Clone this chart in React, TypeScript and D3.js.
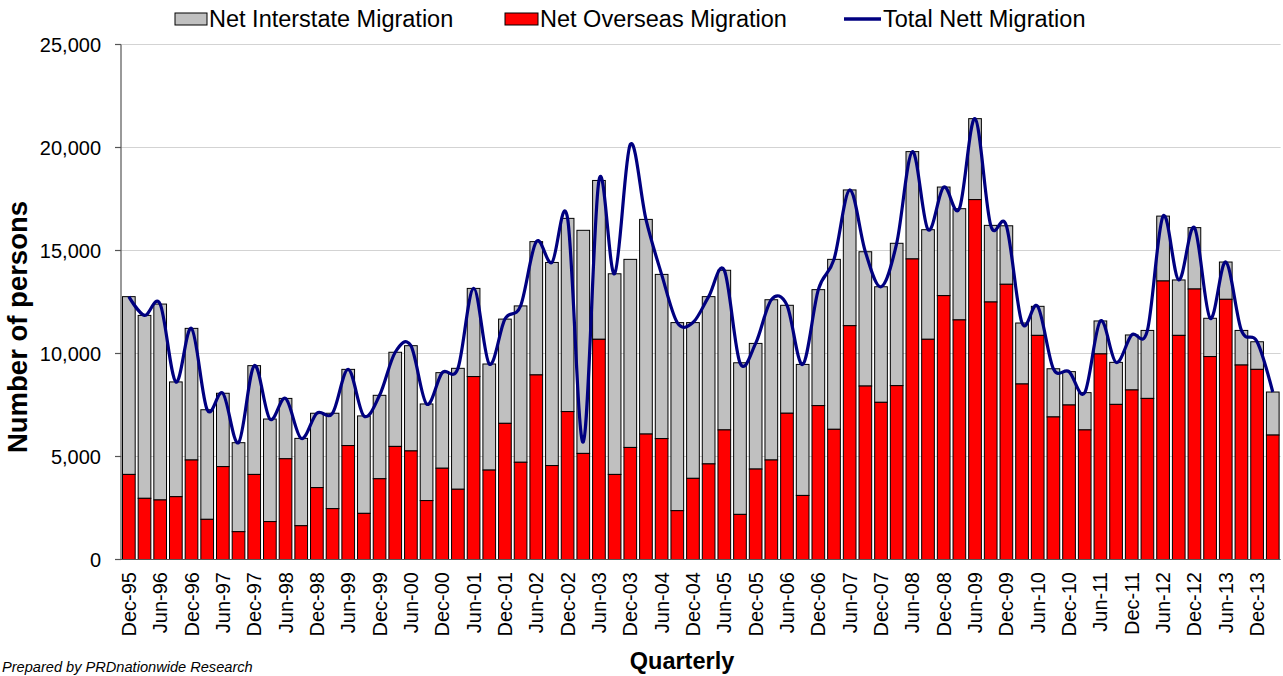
import React from 'react';
import * as d3 from 'd3';

const quarters = [
  'Dec-95','Mar-96','Jun-96','Sep-96','Dec-96','Mar-97','Jun-97','Sep-97','Dec-97','Mar-98',
  'Jun-98','Sep-98','Dec-98','Mar-99','Jun-99','Sep-99','Dec-99','Mar-00','Jun-00','Sep-00',
  'Dec-00','Mar-01','Jun-01','Sep-01','Dec-01','Mar-02','Jun-02','Sep-02','Dec-02','Mar-03',
  'Jun-03','Sep-03','Dec-03','Mar-04','Jun-04','Sep-04','Dec-04','Mar-05','Jun-05','Sep-05',
  'Dec-05','Mar-06','Jun-06','Sep-06','Dec-06','Mar-07','Jun-07','Sep-07','Dec-07','Mar-08',
  'Jun-08','Sep-08','Dec-08','Mar-09','Jun-09','Sep-09','Dec-09','Mar-10','Jun-10','Sep-10',
  'Dec-10','Mar-11','Jun-11','Sep-11','Dec-11','Mar-12','Jun-12','Sep-12','Dec-12','Mar-13',
  'Jun-13','Sep-13','Dec-13','Mar-14'
];

const netOverseas = [
  4130, 2970, 2890, 3050, 4830, 1950, 4510, 1350, 4130, 1840,
  4890, 1640, 3490, 2470, 5530, 2240, 3920, 5490, 5270, 2860,
  4430, 3410, 8880, 4340, 6610, 4720, 8960, 4560, 7180, 5150,
  10690, 4130, 5440, 6090, 5870, 2370, 3940, 4640, 6290, 2190,
  4390, 4830, 7100, 3110, 7470, 6320, 11350, 8420, 7630, 8440,
  14590, 10690, 12810, 11630, 17470, 12500, 13360, 8520, 10880, 6920,
  7500, 6290, 9980, 7530, 8230, 7820, 13520, 10880, 13130, 9850,
  12630, 9440, 9230, 6040
];

const netInterstate = [
  8630, 8880, 9510, 5570, 6390, 5320, 3560, 4320, 5280, 4980,
  2930, 4240, 3610, 4630, 3700, 4730, 4050, 4570, 5110, 4690,
  4640, 5870, 4280, 5150, 5060, 7590, 6470, 9860, 9380, 10830,
  7710, 9740, 9130, 10420, 7970, 9130, 7560, 8120, 7750, 7360,
  6100, 7780, 5240, 6360, 5630, 8250, 6590, 6520, 5610, 6910,
  5210, 5320, 5270, 5400, 3930, 3720, 2840, 2960, 1410, 2340,
  1620, 1810, 1600, 2040, 2670, 3300, 3150, 2690, 2980, 1860,
  1810, 1680, 1340, 2090
];

const totalNett = [
  12760, 11850, 12400, 8620, 11220, 7270, 8070, 5670, 9410, 6820,
  7820, 5880, 7100, 7100, 9230, 6970, 7970, 10060, 10380, 7550,
  9070, 9280, 13160, 9490, 11670, 12310, 15430, 14420, 16560, 5700,
  18400, 13870, 20150, 16510, 13840, 11500, 11500, 12760, 14040, 9550,
  10490, 12610, 12340, 9470, 13100, 14570, 17940, 14940, 13240, 15350,
  19800, 16010, 18080, 17030, 21400, 16220, 16200, 11480, 12290, 9260,
  9120, 8100, 11580, 9570, 10900, 11120, 16670, 13570, 16110, 11710,
  14440, 11120, 10570, 8130
];

const yTicks = [0, 5000, 10000, 15000, 20000, 25000];

const FONT = "Arial, 'Liberation Sans', sans-serif";

export default function App() {
  const W = 1283, H = 676;
  const left = 121, right = 1280.6, top = 44.5, bottom = 559.5;

  const x = d3.scaleBand<string>().domain(quarters).range([left, right]).paddingInner(0.19).paddingOuter(0.095);
  const y = d3.scaleLinear().domain([0, 25000]).range([bottom, top]);
  const bw = x.bandwidth();
  const cx = (q: string) => (x(q) as number) + bw / 2;

  const line = d3.line<number>()
    .x((_, i) => cx(quarters[i]))
    .y((d) => y(d))
    .curve(d3.curveCardinal.tension(0));

  const fmt = d3.format(',');

  return (
    <svg width={W} height={H} style={{ position: 'absolute', left: 0, top: 0, background: '#fff' }} fontFamily={FONT}>
      {yTicks.filter((t) => t > 0).map((t) => (
        <line key={'g' + t} x1={left} x2={right} y1={y(t)} y2={y(t)} stroke="#d3d3d3" strokeWidth={1.2} />
      ))}
      {quarters.map((q, i) => {
        const x0 = x(q) as number;
        const o = netOverseas[i];
        const s = netInterstate[i];
        return (
          <g key={q}>
            <rect x={x0} y={y(o + s)} width={bw} height={y(o) - y(o + s)} fill="#c0c0c0" stroke="#000" strokeWidth={1} />
            <rect x={x0} y={y(o)} width={bw} height={y(0) - y(o)} fill="#ff0000" stroke="#000" strokeWidth={1} />
          </g>
        );
      })}
      <line x1={left} x2={left} y1={top} y2={bottom} stroke="#555" strokeWidth={1.2} />
      <line x1={left} x2={right} y1={bottom} y2={bottom} stroke="#555" strokeWidth={1.2} />
      {yTicks.map((t) => (
        <g key={'t' + t}>
          <line x1={left - 6} x2={left} y1={y(t)} y2={y(t)} stroke="#555" strokeWidth={1.2} />
          <text x={101} y={y(t)} dy="0.35em" textAnchor="end" fontSize={20} fill="#000">{fmt(t)}</text>
        </g>
      ))}
      <path d={line(totalNett) || ''} fill="none" stroke="#000080" strokeWidth={3.2} strokeLinejoin="round" />
      {quarters.map((q, i) => i % 2 === 0 ? (
        <text key={'x' + q} transform={`translate(${cx(q)},572) rotate(-90)`} dy="0.35em" textAnchor="end" fontSize={20} fill="#000">{q}</text>
      ) : null)}
      <text transform={`translate(17,327) rotate(-90)`} dy="0.35em" textAnchor="middle" fontSize={27.5} fontWeight="bold" fill="#000">Number of persons</text>
      <text x={682} y={669} textAnchor="middle" fontSize={23.5} fontWeight="bold" fill="#000">Quarterly</text>
      <text x={2} y={672} fontSize={14.6} fontStyle="italic" fill="#000">Prepared by PRDnationwide Research</text>
      <rect x={175} y={13} width={32} height={12} fill="#c0c0c0" stroke="#000" strokeWidth={1} />
      <text x={209} y={19} dy="0.35em" fontSize={23.5} fill="#000">Net Interstate Migration</text>
      <rect x={505} y={13} width={33} height={12} fill="#ff0000" stroke="#000" strokeWidth={1} />
      <text x={540} y={19} dy="0.35em" fontSize={23.5} fill="#000">Net Overseas Migration</text>
      <line x1={844} x2={881} y1={19} y2={19} stroke="#000080" strokeWidth={3.5} />
      <text x={883} y={19} dy="0.35em" fontSize={23.5} fill="#000">Total Nett Migration</text>
    </svg>
  );
}
